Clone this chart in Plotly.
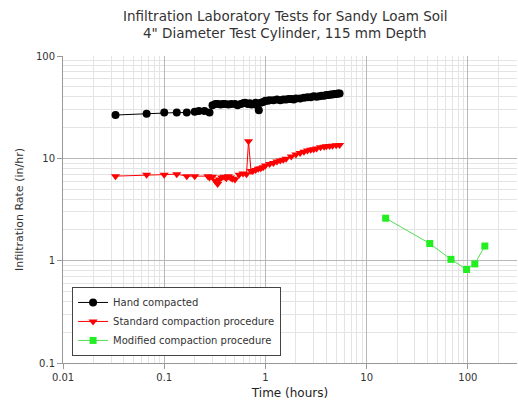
import plotly.graph_objects as go

# Hand compacted
hand_t = [0.033, 0.067, 0.10, 0.133, 0.167, 0.20, 0.22, 0.25, 0.28,
          0.30, 0.32, 0.34, 0.36, 0.38, 0.40, 0.43, 0.46, 0.50, 0.53, 0.57,
          0.60, 0.63, 0.67, 0.70, 0.73, 0.77, 0.80, 0.83, 0.86, 0.90, 0.95,
          1.0, 1.05, 1.1, 1.2, 1.3, 1.4, 1.5, 1.6, 1.7, 1.8, 1.9, 2.0, 2.2,
          2.4, 2.6, 2.8, 3.0, 3.2, 3.4, 3.6, 3.8, 4.0, 4.2, 4.4, 4.6, 4.8,
          5.0, 5.2, 5.4]
hand_y = [26.5, 27.2, 28, 28, 28, 28.5, 29, 29, 28,
          33, 34, 34, 33.5, 34, 34, 33.5, 34, 34, 33, 34,
          34.5, 35, 34, 34.5, 33.5, 34, 35, 33, 29.5, 35, 35.5,
          36.5, 36.5, 37, 37, 37.5, 37, 37.5, 37.5, 38, 38, 37.5, 38.5, 38.5,
          39, 39.5, 39.5, 40.5, 40, 40.5, 41, 41, 41.5, 41.5, 42, 42, 42.5,
          42.5, 43, 43]

# Standard compaction procedure
std_t = [0.033, 0.067, 0.10, 0.133, 0.167, 0.20, 0.27, 0.28, 0.30, 0.32,
         0.337, 0.35, 0.37, 0.39, 0.41, 0.43, 0.45, 0.47, 0.50, 0.55, 0.60,
         0.65, 0.68, 0.72, 0.75, 0.8, 0.85, 0.9, 0.95, 1.0, 1.1, 1.2, 1.3,
         1.4, 1.5, 1.6, 1.8, 2.0, 2.2, 2.4, 2.6, 2.8, 3.0, 3.2, 3.5, 3.8,
         4.0, 4.3, 4.6, 5.0, 5.4]
std_y = [6.7, 6.9, 6.9, 7.0, 6.7, 6.7, 6.7, 6.5, 6.6, 6.0,
         5.6, 6.2, 6.5, 6.6, 6.4, 6.7, 6.5, 6.3, 6.2, 6.9, 7.1,
         7.0, 14.7, 7.5, 7.5, 7.7, 7.9, 8.0, 8.2, 8.5, 8.8, 9.0, 9.3,
         9.5, 9.7, 9.9, 10.4, 10.9, 11.3, 11.6, 11.9, 12.1, 12.3, 12.5, 12.8, 13.0,
         13.1, 13.2, 13.3, 13.4, 13.5]

# Modified compaction procedure
mod_t = [15.4, 42, 68, 97, 117, 147]
mod_y = [2.6, 1.47, 1.03, 0.82, 0.93, 1.39]

x_tickvals = [0.01, 0.1, 1, 10, 100]
x_ticktext = ["0.01", "0.1", "1", "10", "100"]
y_tickvals = [0.1, 1, 10, 100]
y_ticktext = ["0.1", "1", "10", "100"]

x_decades = [0.01, 0.1, 1, 10, 100]
y_decades = [0.1, 1, 10]
minor_mult = [2, 3, 4, 5, 6, 7, 8, 9]
x_minor = [d * m for d in x_decades for m in minor_mult]
y_minor = [d * m for d in y_decades for m in minor_mult]

title_lines = ["Infiltration Laboratory Tests for Sandy Loam Soil",
               "4\" Diameter Test Cylinder, 115 mm Depth"]

FONT = "DejaVu Sans, Verdana, sans-serif"
TXT = "#333333"

fig = go.Figure()
fig.add_trace(go.Scatter(x=hand_t, y=hand_y, name="Hand compacted", mode="lines+markers",
                         line=dict(color="black", width=1),
                         marker=dict(symbol="circle", size=8, color="black")))
fig.add_trace(go.Scatter(x=std_t, y=std_y, name="Standard compaction procedure", mode="lines+markers",
                         line=dict(color="#ff0000", width=1),
                         marker=dict(symbol="triangle-down", size=8, color="#ff0000")))
fig.add_trace(go.Scatter(x=mod_t, y=mod_y, name="Modified compaction procedure", mode="lines+markers",
                         line=dict(color="#55dd55", width=1),
                         marker=dict(symbol="square", size=7, color="#22ee22")))

axis_common = dict(type="log", showline=True, linecolor="#999999", linewidth=1,
                   ticks="outside", ticklen=5, tickcolor="#999999",
                   tickfont=dict(size=10, color=TXT, family=FONT),
                   gridcolor="#b8b8b8", gridwidth=1, zeroline=False)

fig.update_layout(
    width=518, height=407,
    margin=dict(l=63, r=1, t=56, b=44),
    paper_bgcolor="white", plot_bgcolor="white",
    font=dict(family=FONT, color=TXT),
    xaxis=dict(axis_common, range=[-2, 2.485], tickvals=x_tickvals, ticktext=x_ticktext,
               minor=dict(tickmode="array", tickvals=x_minor, showgrid=True,
                          gridcolor="#e4e4e4", gridwidth=1, ticks=""),
               title=dict(text="Time (hours)", font=dict(size=12, color="#222222", family=FONT), standoff=6)),
    yaxis=dict(axis_common, range=[-1, 2], tickvals=y_tickvals, ticktext=y_ticktext,
               minor=dict(tickmode="array", tickvals=y_minor, showgrid=True,
                          gridcolor="#e4e4e4", gridwidth=1, ticks=""),
               title=dict(text="Infiltration Rate (in/hr)", font=dict(size=11, color=TXT, family=FONT), standoff=10)),
    legend=dict(x=0.02, y=0.023, xanchor="left", yanchor="bottom",
                bgcolor="white", bordercolor="#444444", borderwidth=1,
                font=dict(size=10, color=TXT, family=FONT),
                tracegroupgap=0),
    showlegend=True,
    annotations=[
        dict(text=title_lines[0], xref="paper", yref="paper", x=0.489, y=1.130,
             xanchor="center", yanchor="middle", showarrow=False, borderpad=0,
             font=dict(size=13.5, color=TXT, family=FONT)),
        dict(text=title_lines[1], xref="paper", yref="paper", x=0.489, y=1.074,
             xanchor="center", yanchor="middle", showarrow=False, borderpad=0,
             font=dict(size=13.5, color=TXT, family=FONT)),
    ],
)

fig.write_html("out.html")
